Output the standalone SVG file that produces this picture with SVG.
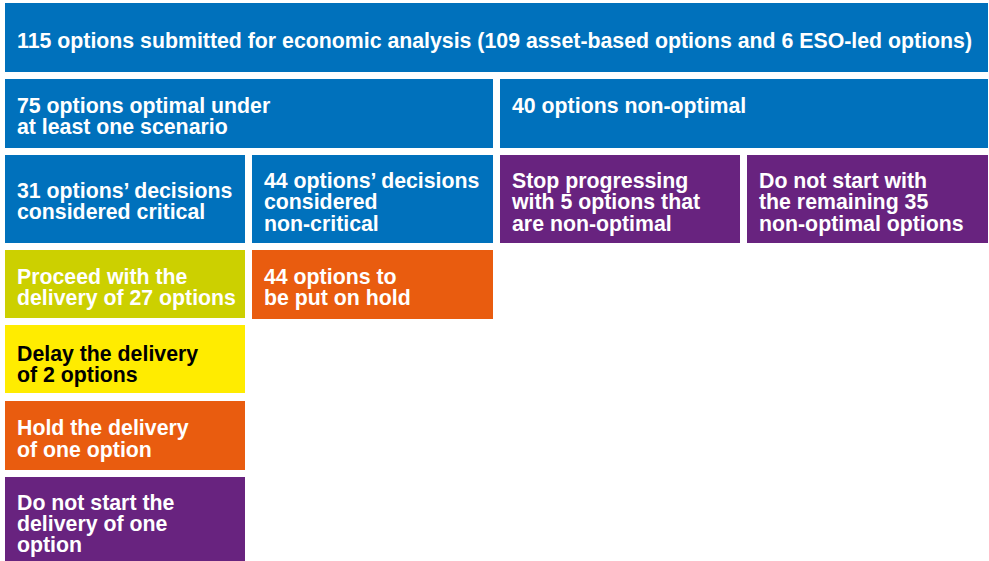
<svg xmlns="http://www.w3.org/2000/svg" width="989" height="561" viewBox="0 0 989 561">
<style>
.t{font-family:"Liberation Sans",Arial,sans-serif;font-weight:bold;font-size:21.3px;fill:#fff}
.d{fill:#000}
.blue{fill:#0071BC}
.purple{fill:#68237F}
.lime{fill:#CCD000}
.yellow{fill:#FFEC00}
.orange{fill:#E95C0F}
</style>
<rect width="989" height="561" fill="#fff"/>
<g id="n115"><rect class="blue" x="5" y="3" width="983" height="69"/><text class="t" x="17" y="48">115 options submitted for economic analysis (109 asset-based options and 6 ESO-led options)</text></g>
<g id="n75"><rect class="blue" x="5" y="79" width="488" height="69"/><text class="t" x="17" y="113">75 options optimal under</text><text class="t" x="17" y="134">at least one scenario</text></g>
<g id="n40"><rect class="blue" x="500" y="79" width="488" height="69"/><text class="t" x="512" y="113">40 options non-optimal</text></g>
<g id="n31"><rect class="blue" x="5" y="155" width="240" height="88"/><text class="t" x="17" y="198">31 options’ decisions</text><text class="t" x="17" y="219">considered critical</text></g>
<g id="n44"><rect class="blue" x="252" y="155" width="241" height="88"/><text class="t" x="264" y="188">44 options’ decisions</text><text class="t" x="264" y="209">considered</text><text class="t" x="264" y="231">non-critical</text></g>
<g id="nstop"><rect class="purple" x="500" y="155" width="240" height="88"/><text class="t" x="512" y="188">Stop progressing</text><text class="t" x="512" y="209">with 5 options that</text><text class="t" x="512" y="231">are non-optimal</text></g>
<g id="ndonot35"><rect class="purple" x="747" y="155" width="241" height="88"/><text class="t" x="759" y="188">Do not start with</text><text class="t" x="759" y="209">the remaining 35</text><text class="t" x="759" y="231">non-optimal options</text></g>
<g id="nproceed"><rect class="lime" x="5" y="250" width="240" height="68"/><text class="t" x="17" y="284">Proceed with the</text><text class="t" x="17" y="305">delivery of 27 options</text></g>
<g id="nhold44"><rect class="orange" x="252" y="250" width="241" height="69"/><text class="t" x="264" y="284">44 options to</text><text class="t" x="264" y="305">be put on hold</text></g>
<g id="ndelay"><rect class="yellow" x="5" y="325" width="240" height="68"/><text class="t d" x="17" y="361">Delay the delivery</text><text class="t d" x="17" y="382">of 2 options</text></g>
<g id="nholdone"><rect class="orange" x="5" y="401" width="240" height="69"/><text class="t" x="17" y="435">Hold the delivery</text><text class="t" x="17" y="457">of one option</text></g>
<g id="ndonotone"><rect class="purple" x="5" y="477" width="240" height="84"/><text class="t" x="17" y="510">Do not start the</text><text class="t" x="17" y="531">delivery of one</text><text class="t" x="17" y="552">option</text></g>
<g id="connectors"></g>
</svg>
